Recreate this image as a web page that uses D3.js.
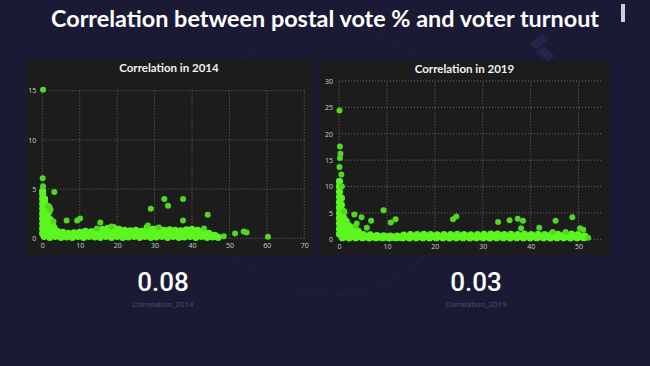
<!DOCTYPE html>
<html>
<head>
<meta charset="utf-8">
<script src="https://cdn.jsdelivr.net/npm/d3@7"></script>
<style>
  html, body { margin: 0; padding: 0; background: #1a1a34; }
  svg { display: block; }
</style>
</head>
<body>
<svg id="chart" width="650" height="366"></svg>
<script>
// --- data ---
// 2014: outliers and the spike near zero
const out2014X = [0.2, 0.1, 0.2, 3.2, 1.5, 1.9, 2.2, 3.0, 6.5, 9.3, 10.1, 15.5, 29.0, 32.6, 33.6, 37.6, 37.6, 44.2, 48.5, 51.5, 53.8, 54.6, 60.3, 28.2, 31.2, 43.2, 18.5, 14.6];
const out2014Y = [15.1, 6.1, 5.3, 4.7, 3.3, 3.2, 2.9, 1.7, 1.8, 1.8, 2.0, 1.6, 3.0, 4.0, 3.3, 4.0, 1.8, 2.4, 0.2, 0.5, 0.7, 0.6, 0.15, 1.3, 1.1, 1.0, 1.2, 1.0];
const spike2014X = [0.1, 0.1, 0.1, 0.1, 0.1, 0.1, 0.1, 0.1, 0.1, 0.1, 0.6, 0.6, 0.6, 0.6, 0.6, 0.6, 0.6, 1.1, 1.1, 1.1, 1.1, 1.1, 1.6, 1.6, 1.6, 2.1, 2.1, 2.6, 2.6, 3.1];
const spike2014Y = [0.5, 1.0, 1.5, 2.0, 2.5, 3.0, 3.5, 4.0, 4.5, 4.8, 0.8, 1.4, 2.0, 2.6, 3.1, 3.6, 4.0, 1.0, 1.6, 2.2, 2.8, 3.2, 1.0, 1.8, 2.6, 1.0, 1.9, 1.0, 1.4, 1.1];
// 2014: the dense band along the bottom (three staggered rows)
const band2014X = [0.5, 2, 3.5, 5, 6.5, 8, 9.5, 11, 12.5, 14, 15.5, 17, 18.5, 20, 21.5, 23, 24.5, 26, 27.5, 29, 30.5, 32, 33.5, 35, 36.5, 38, 39.5, 41, 42.5, 44, 45.5, 47,
                   1.2, 2.7, 4.2, 5.7, 7.2, 8.7, 10.2, 11.7, 13.2, 14.7, 16.2, 17.7, 19.2, 20.7, 22.2, 23.7, 25.2, 26.7, 28.2, 29.7, 31.2, 32.7, 34.2, 35.7, 37.2, 38.7, 40.2, 41.7, 43.2, 44.7, 46.2,
                   1, 2.5, 4, 5.5, 7, 8.5, 10, 11.5, 13, 14.5, 16, 17.5, 19, 20.5, 22, 23.5, 25, 26.5, 28, 29.5, 31, 32.5, 34, 35.5, 37, 38.5, 40, 41.5, 43, 44.5, 46];
const band2014Y = [0.2, 0.1, 0.2, 0.1, 0.15, 0.1, 0.2, 0.1, 0.2, 0.15, 0.1, 0.2, 0.1, 0.2, 0.1, 0.15, 0.2, 0.1, 0.2, 0.1, 0.15, 0.2, 0.1, 0.2, 0.1, 0.15, 0.2, 0.1, 0.2, 0.1, 0.15, 0.1,
                   0.5, 0.45, 0.4, 0.4, 0.35, 0.35, 0.4, 0.4, 0.4, 0.45, 0.5, 0.5, 0.55, 0.5, 0.45, 0.45, 0.45, 0.45, 0.6, 0.5, 0.55, 0.45, 0.5, 0.45, 0.45, 0.5, 0.5, 0.45, 0.4, 0.35, 0.25,
                   1.0, 0.8, 0.7, 0.6, 0.5, 0.55, 0.6, 0.7, 0.65, 0.8, 0.9, 1.0, 1.1, 0.9, 0.8, 0.75, 0.8, 0.7, 1.1, 0.9, 1.0, 0.8, 0.85, 0.8, 0.75, 0.85, 0.9, 0.8, 0.7, 0.5, 0.3];

// 2019: outliers and the spike near zero
const out2019X = [0.1, 0.2, 0.3, 0.2, 0.1, 0.5, 0.6, 1.0, 3.2, 3.5, 3.7, 4.7, 5.8, 6.7, 9.3, 10.8, 11.8, 23.8, 24.5, 33.2, 35.6, 37.3, 38.4, 38.0, 41.8, 45.2, 48.7, 50.3, 51.0, 52.0, 47.3, 44.6];
const out2019Y = [24.4, 17.6, 16.2, 15.4, 13.7, 12.3, 10.0, 5.3, 4.7, 2.5, 3.0, 4.2, 2.2, 3.5, 5.5, 3.2, 3.8, 3.8, 4.3, 3.3, 3.6, 3.9, 3.5, 2.1, 2.2, 3.5, 4.2, 2.1, 1.8, 0.3, 1.4, 1.4];
const spike2019X = [0.1, 0.1, 0.1, 0.1, 0.1, 0.1, 0.1, 0.1, 0.1, 0.1, 0.1, 0.5, 0.5, 0.5, 0.5, 0.5, 0.5, 0.5, 1.0, 1.0, 1.0, 1.0, 1.5, 1.5, 1.5, 2.0, 2.0, 2.5, 2.5, 3.0, 3.5, 4.0];
const spike2019Y = [1, 2, 3, 4, 5, 6, 7, 8, 9, 10, 11, 1.5, 2.5, 3.5, 4.5, 5.5, 6.5, 7.8, 1.5, 2.8, 4.0, 5.2, 1.5, 2.5, 3.4, 1.6, 2.6, 1.5, 2.2, 1.8, 1.6, 1.5];
// 2019: the dense band along the bottom (three staggered rows)
const band2019X = [0.7, 2.1, 3.5, 4.9, 6.3, 7.7, 9.1, 10.5, 11.9, 13.3, 14.7, 16.1, 17.5, 18.9, 20.3, 21.7, 23.1, 24.5, 25.9, 27.3, 28.7, 30.1, 31.5, 32.9, 34.3, 35.7, 37.1, 38.5, 39.9, 41.3, 42.7, 44.1, 45.5, 46.9, 48.3, 49.7, 51.1,
                   1.4, 2.8, 4.2, 5.6, 7.0, 8.4, 9.8, 11.2, 12.6, 14.0, 15.4, 16.8, 18.2, 19.6, 21.0, 22.4, 23.8, 25.2, 26.6, 28.0, 29.4, 30.8, 32.2, 33.6, 35.0, 36.4, 37.8, 39.2, 40.6, 42.0, 43.4, 44.8, 46.2, 47.6, 49.0, 50.4,
                   0.9, 2.3, 3.7, 5.1, 6.5, 7.9, 9.3, 10.7, 12.1, 13.5, 14.9, 16.3, 17.7, 19.1, 20.5, 21.9, 23.3, 24.7, 26.1, 27.5, 28.9, 30.3, 31.7, 33.1, 34.5, 35.9, 37.3, 38.7, 40.1, 41.5, 42.9, 44.3, 45.7, 47.1, 48.5, 49.9, 51.3];
const band2019Y = [0.3, 0.25, 0.3, 0.3, 0.25, 0.3, 0.3, 0.25, 0.3, 0.3, 0.25, 0.3, 0.3, 0.25, 0.3, 0.3, 0.25, 0.3, 0.3, 0.25, 0.3, 0.3, 0.25, 0.3, 0.3, 0.25, 0.3, 0.3, 0.25, 0.3, 0.3, 0.25, 0.3, 0.3, 0.25, 0.3, 0.3,
                   0.6, 0.55, 0.55, 0.5, 0.5, 0.45, 0.45, 0.4, 0.4, 0.5, 0.55, 0.55, 0.55, 0.55, 0.5, 0.55, 0.55, 0.55, 0.55, 0.5, 0.55, 0.55, 0.6, 0.6, 0.55, 0.55, 0.55, 0.6, 0.55, 0.55, 0.55, 0.55, 0.55, 0.55, 0.6, 0.55,
                   1.3, 1.2, 1.0, 0.9, 0.85, 0.7, 0.65, 0.6, 0.6, 0.8, 0.9, 0.9, 0.95, 0.9, 0.85, 0.9, 0.9, 0.95, 0.9, 0.85, 0.9, 0.95, 1.0, 1.0, 0.9, 0.95, 0.9, 1.0, 0.9, 0.95, 0.9, 0.9, 0.95, 0.9, 1.0, 0.9, 0.6];

const xTicks2014 = [0, 10, 20, 30, 40, 50, 60, 70];
const yTicks2014 = [0, 5, 10, 15];
const xTicks2019 = [0, 10, 20, 30, 40, 50];
const yTicks2019 = [0, 5, 10, 15, 20, 25, 30];

const corrValues = ["0.08", "0.03"];
const corrLabels = ["Correlation_2014", "Correlation_2019"];

const svg = d3.select("#chart");
const bandGreen = "#5cf520";
const dotGreen = "#50d91e";

// faint background decoration
svg.append("circle")
    .attr("cx", 330).attr("cy", 160).attr("r", 135)
    .attr("fill", "none").attr("stroke", "#20203f").attr("stroke-width", 1.2);
svg.append("path")
    .attr("d", "M542,33 L549,39 L536,50 L529,44 Z")
    .attr("fill", "#24244a");
svg.append("path")
    .attr("d", "M536,52 L543,46 L555,56 L548,62 Z")
    .attr("fill", "#24244a");

// page title
svg.append("text")
    .attr("x", 325).attr("y", 27)
    .attr("text-anchor", "middle")
    .style("font-family", "Lato, sans-serif")
    .style("font-weight", 700)
    .style("font-size", "23.4px")
    .attr("fill", "#ffffff")
    .text("Correlation between postal vote % and voter turnout");

// little scroll marker top right
svg.append("rect")
    .attr("x", 621).attr("y", 4).attr("width", 4).attr("height", 18)
    .attr("fill", "#cfcfd6");

function drawPanel(cfg) {
    const g = svg.append("g");
    g.append("rect")
        .attr("x", cfg.box[0]).attr("y", cfg.box[1])
        .attr("width", cfg.box[2]).attr("height", cfg.box[3])
        .attr("fill", "#1c1c1c");

    g.append("text")
        .attr("x", cfg.box[0] + cfg.box[2] / 2).attr("y", cfg.box[1] + 12)
        .attr("text-anchor", "middle")
        .style("font-family", "Lato, sans-serif")
        .style("font-weight", 700)
        .style("font-size", "11.5px")
        .attr("fill", "#f2f2f2")
        .text(cfg.title);

    const x = d3.scaleLinear().domain(cfg.xDomain).range(cfg.xRange);
    const y = d3.scaleLinear().domain(cfg.yDomain).range(cfg.yRange);

    // dotted grid
    const grid = g.append("g")
        .attr("stroke", "#6a6a6a").attr("stroke-width", 1).attr("stroke-dasharray", "1,2");
    grid.selectAll("line.v").data(cfg.xTicks).join("line")
        .attr("x1", d => x(d)).attr("x2", d => x(d))
        .attr("y1", cfg.yRange[0]).attr("y2", cfg.yRange[1]);
    grid.selectAll("line.h").data(cfg.yTicks).join("line")
        .attr("x1", cfg.xRange[0]).attr("x2", cfg.xRange[1])
        .attr("y1", d => y(d)).attr("y2", d => y(d));

    // axes, labels only
    const xAxis = g.append("g")
        .attr("transform", `translate(0,${cfg.yRange[0] + 3})`)
        .call(d3.axisBottom(x).tickValues(cfg.xTicks).tickSize(0).tickPadding(2));
    const yAxis = g.append("g")
        .attr("transform", `translate(${cfg.xRange[0] - 4},0)`)
        .call(d3.axisLeft(y).tickValues(cfg.yTicks).tickSize(0).tickPadding(2));
    [xAxis, yAxis].forEach(a => {
        a.select(".domain").remove();
        a.selectAll("text")
            .attr("fill", "#cfcfcf")
            .style("font-family", "'Open Sans', sans-serif")
            .style("font-size", "7px");
    });

    // points: band and spike solid, outliers on top
    cfg.series.forEach(s => {
        const pts = s.xs.map((v, i) => [v, s.ys[i]]);
        g.append("g")
          .selectAll("circle")
          .data(pts)
          .join("circle")
            .attr("cx", d => x(d[0]))
            .attr("cy", d => y(d[1]))
            .attr("r", s.r)
            .attr("fill", s.color);
    });

    // correlation number under the panel
    g.append("text")
        .attr("x", cfg.statX).attr("y", 291)
        .attr("text-anchor", "middle")
        .style("font-family", "Roboto, sans-serif")
        .style("font-weight", 500)
        .style("font-size", "26px")
        .attr("fill", "#ffffff")
        .text(cfg.stat);
    g.append("text")
        .attr("x", cfg.statX).attr("y", 307)
        .attr("text-anchor", "middle")
        .style("font-family", "Roboto, sans-serif")
        .style("font-size", "8px")
        .attr("fill", "#4b4f66")
        .text(cfg.statLabel);
}

drawPanel({
    box: [26, 60, 286, 195],
    title: "Correlation in 2014",
    xDomain: [0, 70], xRange: [42.3, 304.3],
    yDomain: [0, 15], yRange: [238.3, 90.7],
    xTicks: xTicks2014, yTicks: yTicks2014,
    series: [
        { xs: band2014X, ys: band2014Y, color: bandGreen, r: 3.6 },
        { xs: spike2014X, ys: spike2014Y, color: bandGreen, r: 3.6 },
        { xs: out2014X, ys: out2014Y, color: dotGreen, r: 3 }
    ],
    stat: corrValues[0], statLabel: corrLabels[0], statX: 163
});

drawPanel({
    box: [319, 61, 291, 194],
    title: "Correlation in 2019",
    xDomain: [0, 55], xRange: [339, 602.5],
    yDomain: [0, 30], yRange: [239.3, 81],
    xTicks: xTicks2019, yTicks: yTicks2019,
    series: [
        { xs: band2019X, ys: band2019Y, color: bandGreen, r: 3.6 },
        { xs: spike2019X, ys: spike2019Y, color: bandGreen, r: 3.6 },
        { xs: out2019X, ys: out2019Y, color: dotGreen, r: 3 }
    ],
    stat: corrValues[1], statLabel: corrLabels[1], statX: 476
});
</script>
</body>
</html>
